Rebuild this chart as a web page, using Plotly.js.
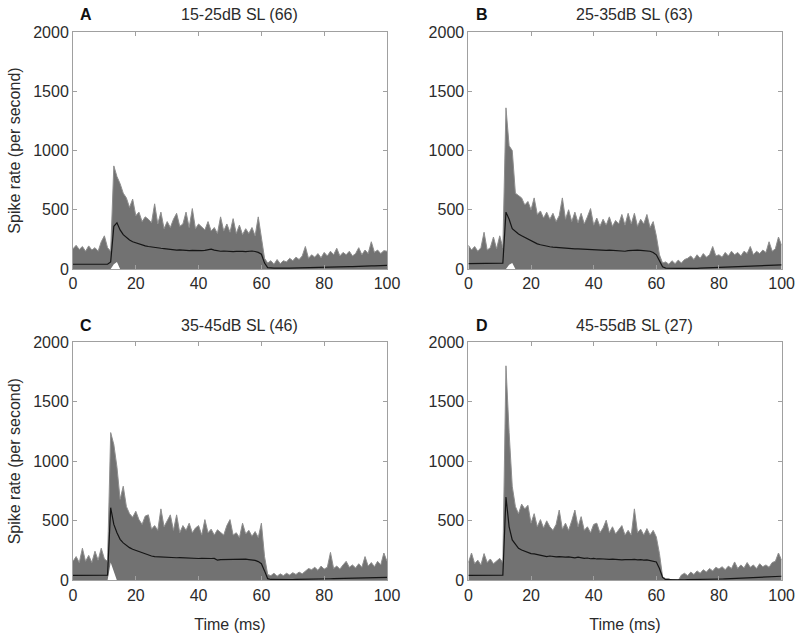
<!DOCTYPE html>
<html>
<head>
<meta charset="utf-8">
<script src="https://cdn.plot.ly/plotly-3.0.1.min.js"></script>
<style>html,body{margin:0;padding:0;background:#fff;}#chart{width:800px;height:634px;}</style>
</head>
<body>
<div id="chart"></div>
<script>
// time grid (ms), 1 ms bins
const timeMs = Array.from({length: 101}, (_, i) => i);

const panelLetters = ["A", "B", "C", "D"];
const panelTitles = ["15-25dB SL (66)", "25-35dB SL (63)", "35-45dB SL (46)", "45-55dB SL (27)"];
const xTickVals = [0, 20, 40, 60, 80, 100];
const yTickVals = [0, 500, 1000, 1500, 2000];

// Panel A: upper edge of individual PSTH band, lower edge, population mean
const upperA = [
  170,200,165,190,150,195,160,180,150,230,
  280,180,150,870,780,720,640,600,520,590,
  450,480,400,440,420,390,550,380,480,340,
  400,350,420,470,360,380,480,350,510,340,
  380,355,330,400,320,350,300,440,320,380,
  310,425,300,370,290,340,300,350,280,440,
  260,90,50,70,40,80,45,70,60,90,
  70,100,80,110,190,90,120,100,130,95,
  140,110,150,120,175,110,140,120,150,110,
  130,180,120,160,130,230,140,160,130,155,
  150];
const lowerA = [
  0,0,0,0,0,0,0,0,0,0,
  0,0,0,40,60,0,0,0,0,0,
  0,0,0,0,0,0,0,0,0,0,
  0,0,0,0,0,0,0,0,0,0,
  0,0,0,0,0,0,0,0,0,0,
  0,0,0,0,0,0,0,0,0,0,
  0,0,0,0,0,0,0,0,0,0,
  0,0,0,0,0,0,0,0,0,0,
  0,0,0,0,0,0,0,0,0,0,
  0,0,0,0,0,0,0,0,0,0,
  0];
const meanA = [
  40,40,38,40,42,40,38,40,42,40,
  40,40,60,360,390,330,290,265,245,230,
  220,210,200,195,190,185,180,178,175,172,
  168,165,165,160,162,158,160,155,158,155,
  152,155,158,162,168,160,155,150,152,148,
  150,146,148,145,148,146,150,152,148,140,
  125,50,12,8,7,8,6,7,8,7,
  8,9,8,9,10,9,10,11,12,12,
  13,14,15,15,16,17,18,19,20,20,
  22,23,24,25,26,26,27,28,29,30,
  30];

// Panel B
const upperB = [
  200,160,190,150,180,310,160,180,270,170,
  280,180,1360,1040,1000,640,620,600,540,570,
  500,600,460,490,430,480,420,470,400,450,
  600,420,500,400,480,390,470,380,440,510,
  370,430,360,420,370,440,360,410,380,460,
  370,470,380,470,360,420,380,460,350,400,
  280,120,50,60,40,70,45,75,50,80,
  90,110,80,120,90,130,100,120,190,110,
  120,100,140,110,150,120,140,110,150,130,
  190,120,150,130,160,140,230,150,170,270,
  200];
const lowerB = [
  0,0,0,0,0,0,0,0,0,0,
  0,0,0,35,50,0,0,0,0,0,
  0,0,0,0,0,0,0,0,0,0,
  0,0,0,0,0,0,0,0,0,0,
  0,0,0,0,0,0,0,0,0,0,
  0,0,0,0,0,0,0,0,0,0,
  0,0,0,0,0,0,0,0,0,0,
  0,0,0,0,0,0,0,0,0,0,
  0,0,0,0,0,0,0,0,0,0,
  0,0,0,0,0,0,0,0,0,0,
  0];
const meanB = [
  45,45,44,45,46,45,44,45,46,45,
  45,50,480,420,340,315,295,280,265,250,
  235,225,212,205,198,192,188,185,182,180,
  178,176,174,172,170,170,168,166,165,165,
  163,162,160,160,158,160,158,155,152,155,
  150,155,158,155,160,158,155,158,150,140,
  120,70,18,8,6,5,6,5,6,5,
  6,6,7,6,7,8,8,9,10,10,
  11,12,13,14,15,16,17,18,19,20,
  21,22,23,24,25,27,28,30,32,33,
  35];

// Panel C
const upperC = [
  160,200,150,270,160,210,150,245,170,270,
  180,160,1240,1140,950,680,790,620,560,530,
  580,510,470,540,550,430,460,420,600,450,
  500,550,420,550,400,460,420,480,400,440,
  460,380,510,400,430,380,425,400,380,460,
  510,380,400,360,480,390,420,370,410,360,
  480,200,50,40,60,35,55,40,60,45,
  65,50,70,55,80,100,90,110,85,120,
  95,110,235,100,120,95,130,160,110,130,
  105,140,110,200,120,150,115,160,130,230,
  160];
const lowerC = [
  0,0,0,0,0,0,0,0,0,0,
  0,0,150,80,0,0,0,0,0,0,
  0,0,0,0,0,0,0,0,0,0,
  0,0,0,0,0,0,0,0,0,0,
  0,0,0,0,0,0,0,0,0,0,
  0,0,0,0,0,0,0,0,0,0,
  0,0,0,0,0,0,0,0,0,0,
  0,0,0,0,0,0,0,0,0,0,
  0,0,0,0,0,0,0,0,0,0,
  0,0,0,0,0,0,0,0,0,0,
  0];
const meanC = [
  42,42,40,42,44,42,40,42,44,42,
  42,45,610,470,400,345,315,292,275,262,
  252,245,238,228,215,205,200,198,195,194,
  195,193,192,190,192,190,188,186,188,186,
  184,185,183,186,184,185,170,175,176,174,
  176,175,178,176,180,178,175,172,168,158,
  140,80,15,8,7,6,7,6,7,8,
  7,8,8,9,9,10,10,11,12,12,
  13,14,14,15,16,16,17,18,18,19,
  20,20,21,22,22,23,24,24,25,25,
  26];

// Panel D
const upperD = [
  150,230,140,170,130,225,150,180,140,160,
  185,150,1800,1240,790,620,560,640,600,630,
  480,560,450,510,440,500,450,420,470,590,
  430,480,420,500,590,450,535,420,450,400,
  470,480,400,440,505,400,450,390,430,460,
  380,420,380,600,400,430,380,435,380,420,
  365,225,30,15,15,0,0,0,45,60,
  40,70,50,80,60,90,70,100,80,110,
  95,115,90,120,100,155,100,130,105,150,
  110,130,100,140,115,130,110,150,160,230,
  170];
const lowerD = [
  0,0,0,0,0,0,0,0,0,0,
  0,0,0,0,0,0,0,0,0,0,
  0,0,0,0,0,0,0,0,0,0,
  0,0,0,0,0,0,0,0,0,0,
  0,0,0,0,0,0,0,0,0,0,
  0,0,0,0,0,0,0,0,0,0,
  0,0,0,0,0,0,0,0,0,0,
  0,0,0,0,0,0,0,0,0,0,
  0,0,0,0,0,0,0,0,0,0,
  0,0,0,0,0,0,0,0,0,0,
  0];
const meanD = [
  42,42,40,42,44,42,40,42,44,42,
  42,45,700,450,340,300,270,255,245,235,
  225,222,215,210,205,200,205,200,198,200,
  196,195,198,192,190,195,188,185,188,182,
  185,180,182,178,180,176,178,174,176,172,
  175,172,174,176,172,175,170,172,168,165,
  155,100,25,6,5,5,5,5,5,5,
  6,6,6,7,7,8,8,9,9,10,
  11,12,13,14,15,16,17,18,19,20,
  21,22,23,24,26,27,28,30,32,33,
  35];

const uppers = [upperA, upperB, upperC, upperD];
const lowers = [lowerA, lowerB, lowerC, lowerD];
const means = [meanA, meanB, meanC, meanD];

const FONT = "Liberation Sans, Arial, sans-serif";
const TXT = "#2b2b2b";
const BAND = "#727272";
const BANDEDGE = "#8e8e8e";
const FRAME = "#a0a0a0";

const xDomains = [[0.09125, 0.48375], [0.5855, 0.977], [0.09125, 0.48375], [0.5855, 0.977]];
const yDomains = [[0.5757, 0.9495], [0.5757, 0.9495], [0.0845, 0.4606], [0.0845, 0.4606]];

const traces = [];
const layout = {
  width: 800, height: 634,
  margin: {l: 0, r: 0, t: 0, b: 0},
  paper_bgcolor: "#fff", plot_bgcolor: "#fff",
  showlegend: false,
  font: {family: FONT, size: 16, color: TXT},
  annotations: []
};

for (let p = 0; p < 4; p++) {
  const ax = p === 0 ? "" : String(p + 1);
  const xr = "x" + ax, yr = "y" + ax;
  traces.push({x: timeMs, y: lowers[p], xaxis: xr, yaxis: yr, type: "scatter", mode: "lines",
    line: {width: 0, color: "rgba(0,0,0,0)"}, hoverinfo: "skip"});
  traces.push({x: timeMs, y: uppers[p], xaxis: xr, yaxis: yr, type: "scatter", mode: "lines",
    fill: "tonexty", fillcolor: BAND, line: {width: 1, color: BANDEDGE}});
  traces.push({x: timeMs, y: means[p], xaxis: xr, yaxis: yr, type: "scatter", mode: "lines",
    line: {width: 1.2, color: "#151515"}});

  const xa = {
    domain: xDomains[p], anchor: yr, range: [0, 100], tickvals: xTickVals,
    ticks: "inside", ticklen: 4, tickcolor: FRAME, showline: true, linecolor: FRAME, linewidth: 1,
    mirror: "ticks", showgrid: false, zeroline: false,
    tickfont: {family: FONT, size: 16, color: TXT}
  };
  const ya = {
    domain: yDomains[p], anchor: xr, range: [0, 2000], tickvals: yTickVals,
    ticks: "inside", ticklen: 4, tickcolor: FRAME, showline: true, linecolor: FRAME, linewidth: 1,
    mirror: "ticks", showgrid: false, zeroline: false,
    tickfont: {family: FONT, size: 16, color: TXT}
  };
  if (p >= 2) xa.title = {text: "Time (ms)", font: {family: FONT, size: 16, color: TXT}, standoff: 16};
  if (p % 2 === 0) ya.title = {text: "Spike rate (per second)", font: {family: FONT, size: 16, color: TXT}, standoff: 8};
  layout["xaxis" + ax] = xa;
  layout["yaxis" + ax] = ya;

  const titleY = p < 2 ? 1 - 15 / 634 : 1 - 325 / 634;
  const titleX = p % 2 === 0 ? 239 / 800 : 634 / 800;
  const letterX = p % 2 === 0 ? 86 / 800 : 482 / 800;
  layout.annotations.push({text: panelTitles[p], xref: "paper", yref: "paper", x: titleX, y: titleY,
    xanchor: "center", yanchor: "middle", showarrow: false, font: {family: FONT, size: 16, color: TXT}});
  layout.annotations.push({text: "<b>" + panelLetters[p] + "</b>", xref: "paper", yref: "paper", x: letterX, y: titleY,
    xanchor: "center", yanchor: "middle", showarrow: false, font: {family: FONT, size: 16, color: "#111"}});
}

Plotly.newPlot("chart", traces, layout, {displayModeBar: false, staticPlot: true});
</script>
</body>
</html>
